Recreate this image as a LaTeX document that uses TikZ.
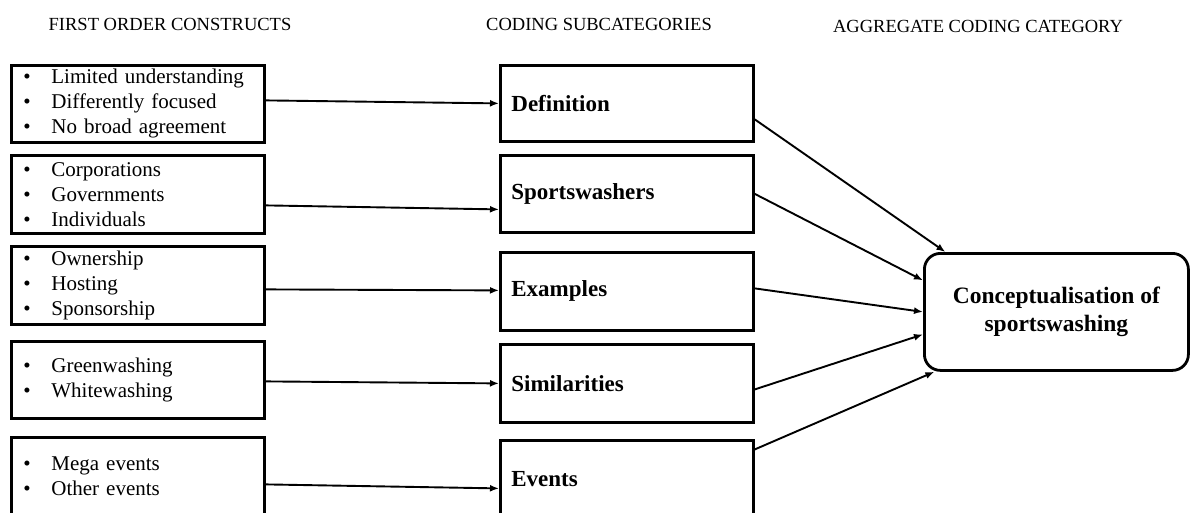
\documentclass[tikz,border=0pt]{standalone}
\usepackage{fontspec}
\setmainfont{Liberation Serif}
\usetikzlibrary{positioning,arrows.meta}
\tikzstyle{chart} = [x = 1pt, y = -1pt]
\tikzstyle{headText} = [font=\fontsize{18.5}{22}\selectfont, anchor=base]
\tikzstyle{boxLine} = [draw, line width=2.8pt, anchor=north west, inner ysep=0pt, align=left]
\tikzstyle{constructBox} = [boxLine, text width=229pt, inner xsep=12pt, font=\fontsize{21}{25}\selectfont]
\tikzstyle{subBox} = [boxLine, text width=231pt, inner xsep=11pt, font=\bfseries\fontsize{23}{27}\selectfont]
\tikzstyle{conceptBox} = [draw, line width=2.8pt, anchor=north west, rounded corners=16pt, minimum width=264pt, minimum height=117pt, align=center, font=\bfseries\fontsize{23.5}{28}\selectfont]
\tikzstyle{linkArrow} = [line width=1.9pt, -{Latex[length=9pt,width=7pt]}]
\newcommand{\bulletItem}[1]{\makebox[28pt][l]{\textbullet}#1}

\begin{document}
\begin{tikzpicture}[chart]
  \useasboundingbox (0,0) rectangle (1195,512);
  % column heads
  \node [headText] (headFirst) at (170,30) {FIRST ORDER CONSTRUCTS};
  \node [headText] (headSub) at (599,30) {CODING SUBCATEGORIES};
  \node [headText] (headAggregate) at (978,32) {AGGREGATE CODING CATEGORY};
  % first order constructs
  \node [constructBox, minimum height=77pt] (first1) at (10,64)
    {\bulletItem{Limited understanding}\\\bulletItem{Differently focused}\\\bulletItem{No broad agreement}};
  \node [constructBox, minimum height=78pt] (first2) at (10,154)
    {\bulletItem{Corporations}\\\bulletItem{Governments}\\\bulletItem{Individuals}};
  \node [constructBox, minimum height=78pt] (first3) at (10,245)
    {\bulletItem{Ownership}\\\bulletItem{Hosting}\\\bulletItem{Sponsorship}};
  \node [constructBox, minimum height=77pt] (first4) at (10,340)
    {\bulletItem{Greenwashing}\\\bulletItem{Whitewashing}};
  \node [constructBox, minimum height=78pt] (first5) at (10,436)
    {\bulletItem{Mega events}\\\bulletItem{Other events}};
  % coding subcategories
  \node [subBox, minimum height=76pt] (sub1) at (499,64) {Definition};
  \node [subBox, minimum height=77pt] (sub2) at (499,154) {Sportswashers};
  \node [subBox, minimum height=78pt] (sub3) at (499,251) {Examples};
  \node [subBox, minimum height=78pt] (sub4) at (499,343) {Similarities};
  \node [subBox, minimum height=78pt] (sub5) at (499,439) {Events};
  % aggregate category
  \node [conceptBox] (concept) at (923,252) {Conceptualisation of\\sportswashing};
  % links
  \foreach \i/\s/\e in {1/3.5/0, 2/-11/-15.5, 3/-4/1, 4/-1.5/0, 5/-8/-9}
    \draw [linkArrow] ([yshift=\s pt]first\i.east) -- ([yshift=\e pt]sub\i.west);
  \draw [linkArrow] ([yshift=-16pt]sub1.east) -- ([xshift=-111pt]concept.north);
  \draw [linkArrow] (sub2.east) -- ([yshift=31.5pt]concept.west);
  \draw [linkArrow] ([yshift=3pt]sub3.east) -- (concept.west);
  \draw [linkArrow] ([yshift=-6pt]sub4.east) -- ([yshift=-22.5pt]concept.west);
  \draw [linkArrow] ([yshift=30pt]sub5.east) -- ([xshift=-122pt]concept.south);
\end{tikzpicture}
\end{document}
